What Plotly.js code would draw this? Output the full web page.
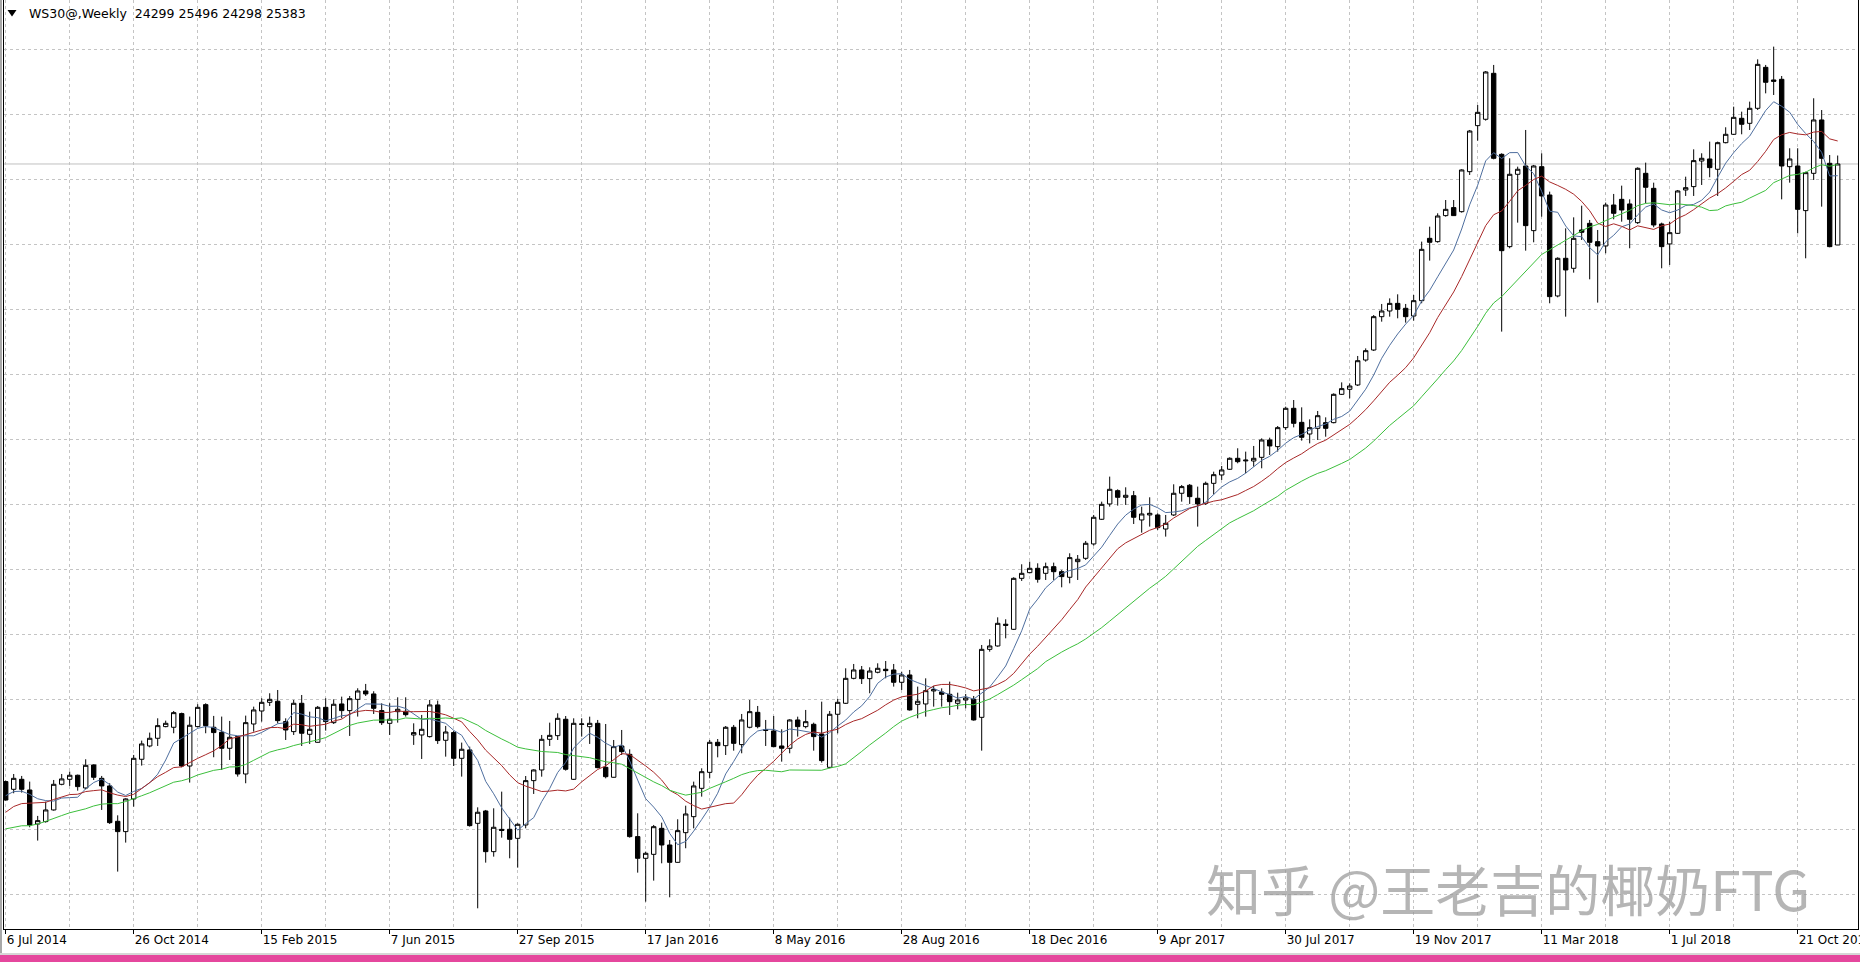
<!DOCTYPE html>
<html><head><meta charset="utf-8">
<script src="https://cdn.plot.ly/plotly-3.0.1.min.js"></script>
<style>
html,body{margin:0;padding:0;background:#fff;}
#wrap{position:relative;width:1860px;height:962px;overflow:hidden;background:#fff;}
#chart{position:absolute;left:0;top:0;width:1860px;height:952px;}
#lstrip{position:absolute;left:0;top:0;width:2px;height:955px;background:#a8a8a8;}
#gline{position:absolute;left:0;top:953px;width:1860px;height:2px;background:#d6d6d6;}
#pink{position:absolute;left:0;top:955px;width:1860px;height:7px;background:#e5479d;}
</style></head>
<body><div id="wrap"><div id="chart"></div><div id="lstrip"></div><div id="gline"></div><div id="pink"></div></div>
<script>
const symbol = 'WS30@';
const period = 'Weekly';
const firstWeek = '2014-07-06';
const watermark = '知乎 @王老吉的椰奶FTG';
const maPeriods = [7, 14, 28];
const maColors = ['#4f6f9f', '#a82828', '#3cbf3c'];

// weekly closes before the first visible bar (estimated, only feed the moving averages)
const preCloses = [16529,16497,16518,15939,15758,15854,16214,16163,16381,16512,16125,16362,16383,16472,16087,16469,16421,16573,16643,16551,16666,16777,16984,16836,17007,16911,17128];

const opens = [
17119,17016,17150,17007,16552,16584,16740,17083,17150,17204,
17034,17342,17163,17061,16588,16450,16887,17418,17596,17699,
17855,17846,18029,17328,17855,18149,17846,17779,17565,17721,
17221,17890,18064,18180,18194,17922,17788,18167,17752,17645,
18113,17908,18158,18069,18220,18332,18292,18069,17899,18055,
18060,17743,17743,17721,18145,17672,17775,17431,17543,16561,
16726,16182,16480,16481,16360,16539,17132,17275,17685,17734,
17953,17150,17885,17854,17899,17310,17177,17596,17484,16383,
16093,16146,16494,16271,16039,16436,16650,17029,17243,17645,
17600,17846,17614,17846,18046,17815,17797,17596,17565,17944,
17855,17886,17756,17310,18020,18167,18501,18613,18497,18582,
18622,18613,18448,18546,18153,18158,18332,18318,18287,18167,
18211,18220,17979,18889,18934,19225,19157,19839,19915,19973,
19906,19995,19928,19853,20062,20107,20299,20629,20834,21012,
20923,20945,20620,20687,20687,20499,20687,20977,21084,20910,
20843,21110,21222,21298,21445,21410,21409,21458,21690,21601,
21855,22114,21926,21770,21846,21922,21922,22301,22368,22426,
22760,22894,23340,23416,23518,23452,23349,23554,24388,24344,
24692,24799,24745,25280,25896,25981,26596,25512,24277,25245,
25356,24491,25347,24968,23617,24121,23987,24500,24589,24344,
24286,24834,24910,24848,24598,25258,25057,24580,24313,24455,
25035,25080,25423,25450,25312,25668,25780,25994,25927,26128,
26676,26507,26516,25347,25356,24759,25258,25972,25392,24299];

const highs = [
17132,17221,17195,17119,16660,16851,17141,17221,17253,17213,
17418,17351,17195,17097,16668,16896,17476,17668,17775,17966,
17935,18064,18042,17989,18154,18167,17998,17989,17931,17730,
18002,18122,18234,18301,18345,17966,18212,18278,18055,18131,
18234,18220,18256,18265,18368,18426,18328,18167,18167,18247,
18247,17899,18011,18212,18203,17864,17797,17641,17587,16775,
16740,16762,16985,16637,16561,17194,17284,17743,17908,18033,
17997,17966,17966,17988,17944,17890,17676,17810,17551,16695,
16182,16539,16570,16338,16615,16797,17119,17297,17676,17689,
17863,17877,18024,18211,18131,17944,17997,17819,17953,17988,
18078,17908,18189,18064,18225,18635,18693,18666,18648,18702,
18733,18693,18590,18613,18390,18501,18399,18367,18457,18309,
18292,18265,18947,19023,19317,19291,19853,20027,20062,20040,
20049,20049,19951,20174,20151,20339,20687,20865,21200,21030,
21057,21008,20798,20923,20709,20687,21097,21088,21101,21066,
21133,21266,21342,21458,21579,21534,21610,21712,21721,21877,
22136,22225,22127,21966,22078,21993,22314,22461,22448,22814,
22916,23362,23510,23585,23639,23510,23630,24344,24544,24723,
24901,24901,25312,25838,26172,26627,26708,25526,25459,25347,
25838,25370,25526,25013,24134,24522,24669,24825,24634,24500,
24866,24982,25093,24910,25338,25401,25133,24598,24611,25035,
25213,25579,25526,25682,25682,25874,26150,26083,26217,26783,
26708,26953,26560,25593,25593,25280,26262,26105,25503,25496];

const lows = [
16865,16963,16972,16508,16330,16570,16731,17070,17061,16998,
17016,17141,16740,16552,15915,16303,16784,17333,17578,17596,
17846,17766,17311,17106,17846,17766,17445,17275,17409,17186,
17097,17788,17922,18131,17899,17676,17743,17596,17623,17641,
17801,17890,17966,17730,17989,18265,18024,17877,17743,17908,
17989,17610,17422,17708,17623,17453,17328,17186,16517,15424,
16035,16115,16369,16093,15968,16494,16954,17185,17596,17676,
17266,17141,17721,17623,17297,17163,17172,17475,16369,15901,
15513,15794,16026,15571,16035,16227,16494,16918,17163,17444,
17475,17533,17498,17832,17832,17596,17578,17386,17498,17721,
17832,17533,17373,17297,17765,18158,18488,18425,18301,18568,
18501,18390,18345,18069,17966,17988,18122,18122,18011,18086,
18100,17935,17533,18858,18925,19036,19148,19804,19906,19781,
19817,19817,19719,19772,19817,20085,20276,20620,20798,20812,
20821,20566,20450,20531,20486,20397,20673,20865,20834,20531,
20821,20963,21155,21289,21378,21244,21333,21311,21489,21534,
21824,21859,21681,21645,21690,21734,21913,22292,22247,22412,
22738,22881,23273,23340,23318,23260,23287,23519,24090,24330,
24678,24687,24732,25236,25695,25963,25445,23140,24255,24598,
24223,24335,24678,23519,23599,23340,23929,24366,23840,23528,
24188,24643,24611,24255,24580,24857,24536,23987,24032,24446,
24955,24955,25102,25205,24955,25659,25771,25780,25838,26105,
26328,26306,24910,25133,24455,24121,25169,24812,24268,24298];

const closes = [
16873,17163,17016,16539,16597,16740,17083,17155,17204,17052,
17337,17177,17061,16570,16450,16887,17431,17623,17699,17868,
17899,18042,17328,17873,18113,17868,17775,17565,17712,17221,
17908,18078,18180,18220,17935,17810,18167,17766,17819,18113,
17922,18154,18069,18229,18332,18292,18100,17908,17953,18087,
18015,17775,17819,18145,17668,17783,17431,17552,16530,16709,
16182,16508,16465,16347,16548,17132,17275,17685,17738,17966,
17284,17899,17890,17899,17306,17185,17587,17520,16383,16093,
16160,16516,16271,16039,16463,16686,17061,17252,17645,17600,
17846,17631,17944,18055,17855,17805,17587,17565,17944,17855,
17921,17721,17400,18020,18180,18501,18613,18497,18599,18635,
18604,18448,18546,18078,18194,18336,18350,18287,18189,18211,
18238,17944,18889,18934,19237,19210,19839,19906,19973,19826,
19995,19928,19862,20116,20094,20308,20656,20829,21030,20923,
20950,20656,20700,20709,20517,20575,20977,21066,20932,20834,
21110,21226,21289,21445,21400,21420,21445,21690,21610,21855,
22114,21913,21726,21855,22015,21846,22301,22377,22412,22751,
22885,23340,23416,23518,23438,23340,23554,24241,24335,24687,
24776,24692,25303,25824,26074,26614,25459,24223,25245,25312,
24558,25356,24955,23608,24121,23965,24388,24469,24335,24286,
24834,24723,24767,24643,25325,25071,24567,24277,24464,25022,
25066,25428,25459,25334,25668,25780,26007,25914,26128,26716,
26476,26489,25356,25450,24776,25267,25972,25459,24277,25383];

// ---- derived ----
const n = closes.length;
const WEEK = 7 * 864e5;
const t0 = Date.parse(firstWeek + 'T00:00:00Z');
const dates = [];
for (let i = 0; i < n; i++) dates.push(new Date(t0 + i * WEEK).toISOString().slice(0, 10));

const allCloses = preCloses.concat(closes);
function sma(p) {
  const off = preCloses.length;
  return closes.map((_, i) => {
    let s = 0;
    for (let k = 0; k < p; k++) s += allCloses[off + i - k];
    return s / p;
  });
}

const traces = [{
  type: 'candlestick',
  x: dates, open: opens, high: highs, low: lows, close: closes,
  increasing: {line: {color: '#000000', width: 1}, fillcolor: '#ffffff'},
  decreasing: {line: {color: '#000000', width: 1}, fillcolor: '#000000'},
  whiskerwidth: 0,
  hoverinfo: 'skip',
  showlegend: false
}];
maPeriods.forEach((p, j) => {
  traces.push({
    type: 'scatter', mode: 'lines', x: dates, y: sma(p),
    line: {color: maColors[j], width: 1},
    hoverinfo: 'skip', showlegend: false
  });
});

// pixel helpers for the frame (plot area: x 4..1858, y 0..929)
const PL = 4, PW = 1854, PH = 929;
const px = v => (v - PL) / PW;
const py = v => (PH - v) / PH;

const last = n - 1;
const header = symbol + ',' + period + '\u00a0\u00a0' + opens[last] + ' ' + highs[last] + ' ' + lows[last] + ' ' + closes[last];

const rangeStart = new Date(t0 - 0.2125 * WEEK).toISOString();
const rangeEnd = new Date(t0 + 231.54 * WEEK).toISOString();

const gridColor = '#c4c4c4';
const layout = {
  width: 1860, height: 952,
  margin: {l: PL, r: 2, t: 0, b: 23},
  paper_bgcolor: '#ffffff', plot_bgcolor: '#ffffff',
  showlegend: false,
  boxgap: 0.45, boxgroupgap: 0,
  xaxis: {
    type: 'date', range: [rangeStart, rangeEnd],
    rangeslider: {visible: false},
    showline: true, linecolor: '#000000', linewidth: 1, mirror: false,
    ticks: 'outside', ticklen: 4, tickcolor: '#000000',
    tick0: firstWeek, dtick: 16 * WEEK, tickformat: '%-d %b %Y',
    ticklabelposition: 'outside right', ticklabeloverflow: 'allow',
    tickfont: {family: 'DejaVu Sans', size: 12, color: '#000000'},
    showgrid: true, gridcolor: gridColor, griddash: '3px,3px', gridwidth: 1,
    minor: {tick0: firstWeek, dtick: 8 * WEEK, showgrid: true, gridcolor: gridColor, griddash: '3px,3px', ticks: ''},
    zeroline: false, fixedrange: true
  },
  yaxis: {
    range: [15147, 27577],
    tick0: 26918, dtick: 869.7,
    showticklabels: false, ticks: '',
    showgrid: true, gridcolor: gridColor, griddash: '3px,3px', gridwidth: 1,
    showline: true, linecolor: '#000000', linewidth: 1, mirror: true,
    zeroline: false, fixedrange: true
  },
  shapes: [
    {type: 'line', xref: 'paper', yref: 'y', x0: 0, x1: 1, y0: closes[last], y1: closes[last],
     line: {color: '#c0c0c0', width: 1}, layer: 'below'},
    {type: 'path', xref: 'paper', yref: 'paper',
     path: 'M ' + px(7.5) + ',' + py(10) + ' L ' + px(16.5) + ',' + py(10) + ' L ' + px(12) + ',' + py(16.5) + ' Z',
     fillcolor: '#000000', line: {width: 0}}
  ],
  annotations: [
    {xref: 'paper', yref: 'paper', x: px(27), y: py(14), xanchor: 'left', yanchor: 'middle',
     text: header, showarrow: false, font: {family: 'DejaVu Sans', size: 12.5, color: '#000000'}},
    {xref: 'paper', yref: 'paper', x: px(1508), y: py(887), xanchor: 'center', yanchor: 'middle',
     text: watermark, showarrow: false, font: {family: 'Noto Sans CJK SC', size: 55, color: 'rgba(150,150,150,0.7)'}}
  ]
};

Plotly.newPlot('chart', traces, layout, {staticPlot: true, displayModeBar: false});
</script>
</body></html>
